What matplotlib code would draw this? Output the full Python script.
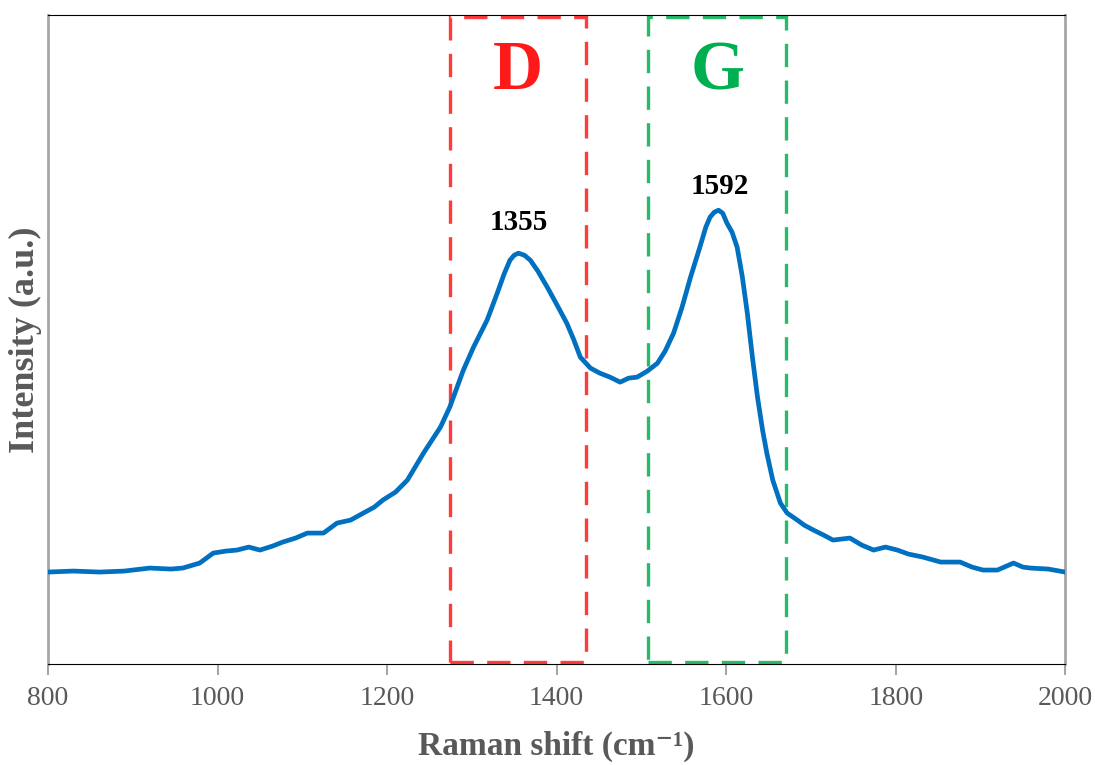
import matplotlib.pyplot as plt
from matplotlib.patches import Rectangle

# Raman spectrum (arbitrary intensity units)
shift = [800, 830, 861, 890, 920, 945, 959, 979, 995, 1010, 1023, 1037, 1050,
         1065, 1077, 1092, 1106, 1125, 1141, 1157, 1172, 1185, 1195, 1210,
         1224, 1243, 1263, 1274, 1290, 1302, 1318, 1330, 1338, 1345, 1350,
         1355, 1362, 1369, 1378, 1389, 1400, 1412, 1420, 1428, 1440, 1451,
         1463, 1475, 1485, 1495, 1507, 1519, 1528, 1538, 1548, 1558, 1569,
         1576, 1581, 1586, 1591, 1596, 1601, 1607, 1613, 1619, 1625, 1631,
         1637, 1643, 1648, 1655, 1664, 1672, 1684, 1692, 1703, 1715, 1726,
         1746, 1760, 1774, 1788, 1802, 1815, 1832, 1853, 1876, 1890, 1903,
         1920, 1939, 1950, 1959, 1980, 2000]
intensity = [92, 93, 92, 93, 96, 95, 96, 101, 111, 113, 114, 117, 114,
             118, 122, 126, 131, 131, 141, 144, 151, 157, 164, 172,
             184, 211, 237, 257, 294, 317, 344, 371, 390, 404, 409,
             411, 409, 404, 393, 377, 360, 341, 325, 307, 296, 291,
             287, 282, 286, 287, 293, 301, 313, 331, 357, 387, 417,
             437, 447, 452, 454, 451, 441, 432, 417, 388, 351, 307,
             267, 234, 211, 184, 161, 151, 144, 139, 134, 129, 124,
             126, 119, 114, 117, 114, 110, 107, 102, 102, 97, 94,
             94, 101, 97, 96, 95, 92]

peaks = [1355, 1592]
peak_labels = ['1355', '1592']
bands = ['D', 'G']
band_lo = [1274, 1508]
band_hi = [1435, 1671]
band_colors = ['#ff1a1a', '#00b050']

plt.rcParams['font.family'] = ['Liberation Serif', 'DejaVu Serif']

fig = plt.figure(figsize=(10.95, 7.65), dpi=100)
ax = fig.add_axes([0.0438, 0.132, 0.929, 0.848])

ax.plot(shift, intensity, color='#0070c0', lw=3.4, zorder=3,
        solid_joinstyle='round')

for name, lo, hi, c in zip(bands, band_lo, band_hi, band_colors):
    ax.add_patch(Rectangle((lo, 2), hi - lo, 645, fill=False, edgecolor=c,
                           lw=2.4, ls=(0, (7, 4)), clip_on=False, zorder=2, alpha=0.85))
    ax.text((lo + hi) / 2, 592, name, color=c, fontsize=50, fontweight='bold',
            ha='center', va='center')

for p, lab, yy in zip(peaks, peak_labels, [442, 478]):
    ax.text(p, yy, lab, fontsize=21, fontweight='bold', ha='center', va='center')

ax.set_xlim(800, 2000)
ax.set_ylim(0, 649)
ax.set_xticks(range(800, 2001, 200))
ax.set_yticks([])
ax.tick_params(axis='x', direction='out', length=8, width=1.5, color='#a6a6a6',
               labelsize=20, labelcolor='#595959', pad=8)

ax.spines['left'].set_color('#a6a6a6')
ax.spines['right'].set_color('#a6a6a6')
ax.spines['left'].set_linewidth(2)
ax.spines['right'].set_linewidth(2)
ax.spines['bottom'].set_color('black')
ax.spines['top'].set_color('black')

ax.set_xlabel('Raman shift (cm⁻¹)', fontsize=24, fontweight='bold',
              color='#595959', labelpad=14)
ax.set_ylabel('Intensity (a.u.)', fontsize=26, fontweight='bold',
              color='#595959', labelpad=4)

plt.savefig('out.png', dpi=100)
